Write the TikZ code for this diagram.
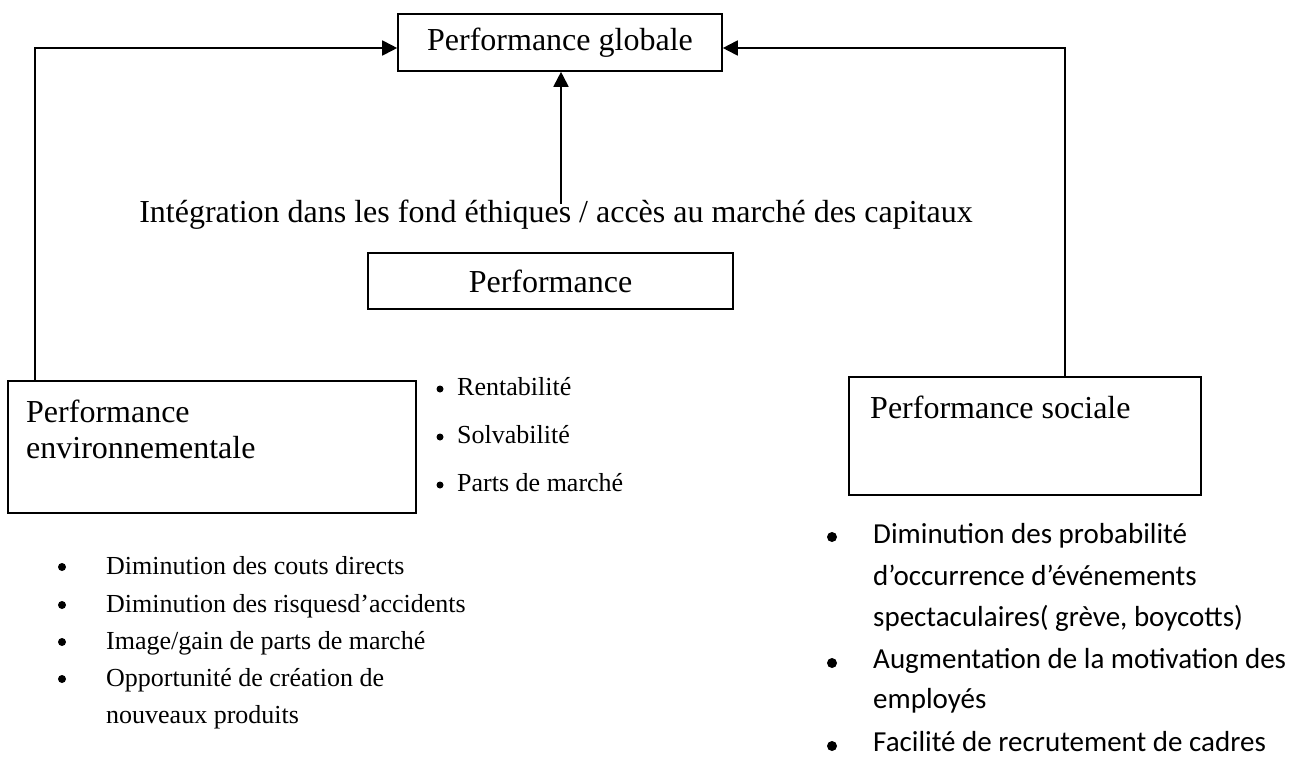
\documentclass[tikz,border=0pt]{standalone}
\usepackage{fontspec}
\setmainfont{Liberation Serif}
\newfontfamily\calib{Carlito}
\usetikzlibrary{arrows.meta}
\begin{document}
\begin{tikzpicture}[x=1pt,y=-1pt,
  box/.style={draw, line width=1.6pt, inner sep=0pt},
  arr/.style={line width=1.8pt, -{Triangle[length=15pt,width=15pt]}},
  big/.style={font=\fontsize{32}{36}\selectfont, inner sep=0pt},
  small/.style={font=\fontsize{26}{30}\selectfont, inner sep=0pt, anchor=base west},
  cal/.style={font=\calib\fontsize{29}{33}\selectfont, inner sep=0pt, anchor=base west},
  dot/.style={circle, fill=black, inner sep=0pt, minimum size=#1}
]
\useasboundingbox (0,0) rectangle (1311,756);

% boxes
\node[box, big, minimum width=324pt, minimum height=57pt] (glob) at (560,42.5) {Performance globale};
\node[box, big, minimum width=365pt, minimum height=56pt] (perf) at (550.5,281) {Performance};
\node[box, minimum width=408pt, minimum height=132pt] (env) at (212,447) {};
\node[box, minimum width=352pt, minimum height=118pt] (soc) at (1025,436) {};

\node[big, anchor=base west] (envA) at (26,422) {Performance};
\node[big, anchor=base west] (envB) at (26,458) {environnementale};
\node[big, anchor=base west] (socA) at (870,418) {Performance sociale};

\node[big, anchor=base] (integ) at (556,222) {Intégration dans les fond éthiques / accès au marché des capitaux};

% connectors
\coordinate (cl) at (35,48);
\coordinate (cr) at (1065,48);
\coordinate (cm) at (561,204);
\draw[arr] (cl |- env.north) -- (cl) -- (glob.west |- cl);
\draw[arr] (cr |- soc.north) -- (cr) -- (glob.east |- cr);
\draw[arr] (cm) -- (cm |- glob.south);

% financial list
\node[dot=7pt] (b1) at (440,389) {};
\node[small] (r1) at (457,395) {Rentabilité};
\node[dot=7pt] (b2) at (440,437) {};
\node[small] (r2) at (457,443) {Solvabilité};
\node[dot=7pt] (b3) at (440,485) {};
\node[small] (r3) at (457,491) {Parts de marché};

% environmental list
\node[dot=8pt] (l1b) at (62,567) {};
\node[small] (l1) at (106,574) {Diminution des couts directs};
\node[dot=8pt] (l2b) at (62,605) {};
\node[small] (l2) at (106,612) {Diminution des risquesd’accidents};
\node[dot=8pt] (l3b) at (62,642) {};
\node[small] (l3) at (106,649) {Image/gain de parts de marché};
\node[dot=8pt] (l4b) at (62,679) {};
\node[small] (l4) at (106,686) {Opportunité de création de};
\node[small] (l5) at (106,723) {nouveaux produits};

% social list
\node[dot=10pt] (s1b) at (832,537) {};
\node[cal] (s1) at (873,543) {Diminution des probabilité};
\node[cal] (s2) at (873,585) {d’occurrence d’événements};
\node[cal] (s3) at (873,626) {spectaculaires( grève, boycotts)};
\node[dot=10pt] (s4b) at (832,663) {};
\node[cal] (s4) at (873,668) {Augmentation de la motivation des};
\node[cal] (s5) at (873,708) {employés};
\node[dot=10pt] (s6b) at (832,746) {};
\node[cal] (s6) at (873,751) {Facilité de recrutement de cadres};
\end{tikzpicture}
\end{document}
